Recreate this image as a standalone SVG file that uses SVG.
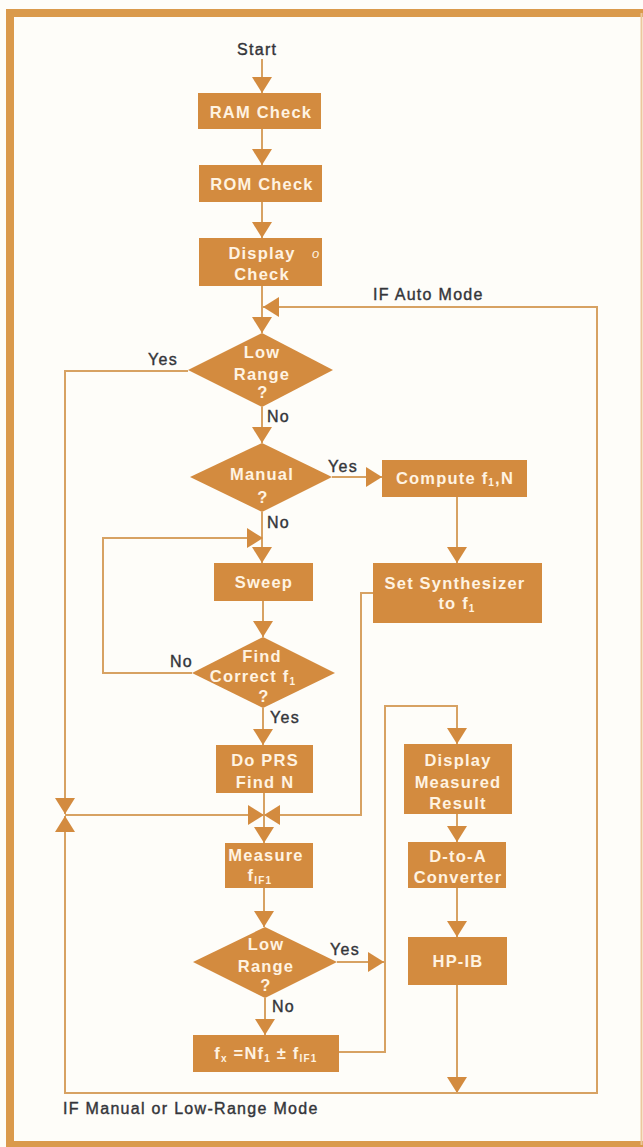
<svg xmlns="http://www.w3.org/2000/svg" width="643" height="1147" viewBox="0 0 643 1147">
<style>
.bg{fill:#FEFDF9}
.frame{fill:none;stroke:#DA9A4C;stroke-width:8}
.box{fill:#D38B3F}
.bt{font-family:"Liberation Sans",Arial,sans-serif;font-weight:bold;font-size:16.5px;letter-spacing:1.2px;fill:#FFF3E2;text-anchor:middle}
.lb{font-family:"Liberation Sans",Arial,sans-serif;font-size:16px;letter-spacing:1.3px;fill:#34353A;stroke:#34353A;stroke-width:0.4}
.ln{fill:none;stroke:#D7A263;stroke-width:2}
.sub{font-size:10px}
</style>
<defs>
<marker id="ah" viewBox="0 0 16 20" refX="16" refY="10" markerWidth="16" markerHeight="20" markerUnits="userSpaceOnUse" orient="auto">
<path d="M0,0 L16,10 L0,20 Z" fill="#D38B3F"/>
</marker>
</defs>
<rect class="bg" x="0" y="0" width="643" height="1147"/>
<path class="frame" d="M647,13 H10 V1145 H647"/>
<line x1="641.5" y1="13" x2="641.5" y2="1145" stroke="#EBC79C" stroke-width="2"/>

<g id="connectors">
<path class="ln" d="M262,59 V93" marker-end="url(#ah)"/>
<path class="ln" d="M262,129 V165" marker-end="url(#ah)"/>
<path class="ln" d="M262,202 V238" marker-end="url(#ah)"/>
<path class="ln" d="M262,286 V333" marker-end="url(#ah)"/>
<path class="ln" d="M262,407 V443" marker-end="url(#ah)"/>
<path class="ln" d="M262,512 V563" marker-end="url(#ah)"/>
<path class="ln" d="M192,673 H103 V538 H263" marker-end="url(#ah)"/>
<path class="ln" d="M263,601 V637" marker-end="url(#ah)"/>
<path class="ln" d="M263,708 V745" marker-end="url(#ah)"/>
<path class="ln" d="M264,793 V843" marker-end="url(#ah)"/>
<path class="ln" d="M188,371 H65 V814" marker-end="url(#ah)"/>
<path class="ln" d="M65,815 H264" marker-end="url(#ah)"/>
<path class="ln" d="M373,593 H361 V815 H264" marker-end="url(#ah)"/>
<path class="ln" d="M332,477 H382" marker-end="url(#ah)"/>
<path class="ln" d="M457,497 V563" marker-end="url(#ah)"/>
<path class="ln" d="M264,888 V927" marker-end="url(#ah)"/>
<path class="ln" d="M265,998 V1035" marker-end="url(#ah)"/>
<path class="ln" d="M337,962 H384" marker-end="url(#ah)"/>
<path class="ln" d="M339,1052 H385 V706 H457 V744" marker-end="url(#ah)"/>
<path class="ln" d="M457,814 V842" marker-end="url(#ah)"/>
<path class="ln" d="M457,888 V937" marker-end="url(#ah)"/>
<path class="ln" d="M457,985 V1093" marker-end="url(#ah)"/>
<path class="ln" d="M457,1093 H65 V816" marker-end="url(#ah)"/>
<path class="ln" d="M457,1093 H597 V307 H263" marker-end="url(#ah)"/>
</g>

<g id="start"><text class="lb" x="237" y="55">Start</text></g>

<g id="ram"><rect class="box" x="198" y="93" width="123" height="36"/><text class="bt" x="261" y="118">RAM Check</text></g>
<g id="rom"><rect class="box" x="199" y="165" width="123" height="37"/><text class="bt" x="262" y="190">ROM Check</text></g>
<g id="display-check"><rect class="box" x="199" y="238" width="123" height="48"/>
<text class="bt" x="262" y="259">Display</text>
<text x="312" y="258" font-family="Liberation Sans,Arial,sans-serif" font-style="italic" font-size="13" fill="#FFF3E2">o</text>
<text class="bt" x="262" y="280">Check</text></g>

<g id="lowrange1"><polygon class="box" points="262,333 333,370 262,407 188,370"/>
<text class="bt" x="262" y="358">Low</text><text class="bt" x="262" y="380">Range</text><text class="bt" x="263" y="398">?</text></g>

<g id="manual"><polygon class="box" points="262,443 332,477 262,512 190,477"/>
<text class="bt" x="262" y="480">Manual</text><text class="bt" x="263" y="503">?</text></g>

<g id="compute"><rect class="box" x="382" y="460" width="145" height="37"/>
<text class="bt" x="455" y="484">Compute f<tspan class="sub" dy="2">1</tspan><tspan dy="-2">,N</tspan></text></g>

<g id="setsynth"><rect class="box" x="373" y="563" width="169" height="60"/>
<text class="bt" x="455" y="589">Set Synthesizer</text>
<text class="bt" x="457" y="609">to f<tspan class="sub" dy="3">1</tspan></text></g>

<g id="sweep"><rect class="box" x="214" y="563" width="99" height="38"/><text class="bt" x="264" y="588">Sweep</text></g>

<g id="findcorrect"><polygon class="box" points="263,637 335,673 263,708 192,673"/>
<text class="bt" x="262" y="662">Find</text>
<text class="bt" x="253" y="682">Correct f<tspan class="sub" dy="3">1</tspan></text>
<text class="bt" x="264" y="702">?</text></g>

<g id="doprs"><rect class="box" x="216" y="745" width="97" height="48"/>
<text class="bt" x="265" y="766">Do PRS</text><text class="bt" x="265" y="788">Find N</text></g>

<g id="measure"><rect class="box" x="225" y="843" width="88" height="45"/>
<text class="bt" x="266" y="861">Measure</text>
<text class="bt" x="260" y="881">f<tspan class="sub" dy="3">IF1</tspan></text></g>

<g id="lowrange2"><polygon class="box" points="265,927 337,962 265,998 193,962"/>
<text class="bt" x="266" y="950">Low</text><text class="bt" x="266" y="972">Range</text><text class="bt" x="266" y="991">?</text></g>

<g id="fx"><rect class="box" x="193" y="1035" width="146" height="37"/>
<text class="bt" x="266" y="1059">f<tspan class="sub" dy="3">x</tspan><tspan dy="-3"> =Nf</tspan><tspan class="sub" dy="3">1</tspan><tspan dy="-3"> ± f</tspan><tspan class="sub" dy="3">IF1</tspan></text></g>

<g id="dispresult"><rect class="box" x="404" y="744" width="108" height="70"/>
<text class="bt" x="458" y="766">Display</text><text class="bt" x="458" y="788">Measured</text><text class="bt" x="458" y="809">Result</text></g>

<g id="dtoa"><rect class="box" x="408" y="842" width="98" height="46"/>
<text class="bt" x="458" y="862">D-to-A</text><text class="bt" x="458" y="883">Converter</text></g>

<g id="hpib"><rect class="box" x="408" y="937" width="99" height="48"/><text class="bt" x="458" y="967">HP-IB</text></g>

<g id="labels">
<text class="lb" x="148" y="365">Yes</text>
<text class="lb" x="267" y="422">No</text>
<text class="lb" x="328" y="472">Yes</text>
<text class="lb" x="267" y="528">No</text>
<text class="lb" x="170" y="667">No</text>
<text class="lb" x="270" y="723">Yes</text>
<text class="lb" x="330" y="955">Yes</text>
<text class="lb" x="272" y="1012">No</text>
<text class="lb" x="373" y="300">IF Auto Mode</text>
<text class="lb" x="63" y="1114">IF Manual or Low-Range Mode</text>
</g>
</svg>
